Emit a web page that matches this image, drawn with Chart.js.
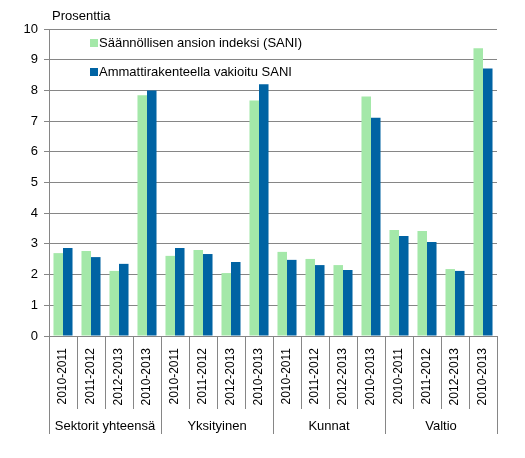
<!DOCTYPE html>
<html>
<head>
<meta charset="utf-8">
<script src="https://cdn.jsdelivr.net/npm/chart.js@4.4.1/dist/chart.umd.min.js"></script>
<style>
    html, body { margin: 0; padding: 0; background: #fff; }
    #wrap { width: 525px; height: 458px; }
</style>
</head>
<body>
<div id="wrap"><canvas id="chart" width="525" height="458"></canvas></div>
<script>
// Chart data
const periods = ['2010-2011', '2011-2012', '2012-2013', '2010-2013'];
const groups = ['Sektorit yhteensä', 'Yksityinen', 'Kunnat', 'Valtio'];
const saniValues = [2.70, 2.77, 2.12, 7.84, 2.61, 2.80, 2.05, 7.67, 2.74, 2.51, 2.31, 7.80, 3.45, 3.42, 2.18, 9.37];
const vakioituValues = [2.87, 2.57, 2.35, 8.00, 2.87, 2.67, 2.41, 8.20, 2.48, 2.31, 2.15, 7.11, 3.26, 3.06, 2.12, 8.71];
const seriesNames = ['Säännöllisen ansion indeksi (SANI)', 'Ammattirakenteella vakioitu SANI'];
const yTicks = [0, 1, 2, 3, 4, 5, 6, 7, 8, 9, 10];
const yTitle = 'Prosenttia';

const FONT = 'Liberation Sans, Arial, sans-serif';
const GRID = '#868686';

// one label per bar: period repeated for every group
const labels = [];
groups.forEach(() => periods.forEach(p => labels.push(p)));

/**
 * Draws the y title, the legend inside the plot and the grouped x axis
 */
const decorPlugin = {
    id: 'decor',
    afterDraw(chart) {
        const ctx = chart.ctx;
        const area = chart.chartArea;
        const x = chart.scales.x;
        ctx.save();

        // Axis title above the plot
        ctx.font = '13px ' + FONT;
        ctx.fillStyle = '#000';
        ctx.textBaseline = 'middle';
        ctx.textAlign = 'left';
        ctx.fillText(yTitle, area.left + 3, 16);

        // Legend inside the plot area
        chart.data.datasets.forEach((ds, i) => {
            const ly = area.top + 14 + i * 29;
            ctx.fillStyle = ds.backgroundColor;
            ctx.fillRect(area.left + 41, ly - 4, 8, 8);
            ctx.fillStyle = '#000';
            ctx.fillText(ds.label, area.left + 50, ly);
        });

        // Category and group separators below the axis
        const n = chart.data.labels.length;
        const step = x.getPixelForValue(1) - x.getPixelForValue(0);
        ctx.strokeStyle = GRID;
        ctx.lineWidth = 1;
        for (let i = 0; i <= n; i++) {
            const px = Math.round(x.getPixelForValue(i) - step / 2) + 0.5;
            const len = (i % periods.length === 0) ? 98 : 73;
            ctx.beginPath();
            ctx.moveTo(px, area.bottom);
            ctx.lineTo(px, area.bottom + len);
            ctx.stroke();
        }

        // Group names
        ctx.fillStyle = '#000';
        ctx.textAlign = 'center';
        groups.forEach((g, gi) => {
            const first = x.getPixelForValue(gi * periods.length);
            const last = x.getPixelForValue(gi * periods.length + periods.length - 1);
            ctx.fillText(g, (first + last) / 2, area.bottom + 90);
        });
        ctx.restore();
    }
};

new Chart(document.getElementById('chart'), {
    type: 'bar',
    data: {
        labels: labels,
        datasets: [
            {
                label: seriesNames[0],
                data: saniValues,
                backgroundColor: '#a4e8a9'
            },
            {
                label: seriesNames[1],
                data: vakioituValues,
                backgroundColor: '#0063a3'
            }
        ]
    },
    options: {
        responsive: false,
        animation: false,
        devicePixelRatio: 1,
        layout: { padding: { top: 29, right: 28, bottom: 0, left: 0 } },
        datasets: {
            bar: { categoryPercentage: 0.68, barPercentage: 1 }
        },
        plugins: {
            legend: { display: false },
            tooltip: { enabled: false }
        },
        scales: {
            x: {
                grid: { display: false, drawTicks: false },
                border: { display: true, color: GRID, width: 1 },
                ticks: {
                    color: '#000',
                    font: { family: FONT, size: 12 },
                    minRotation: 90,
                    maxRotation: 90,
                    padding: 12,
                    autoSkip: false
                },
                afterFit(scale) { scale.height = 122; }
            },
            y: {
                min: 0,
                max: 10,
                afterBuildTicks(scale) {
                    scale.ticks = yTicks.map(v => ({ value: v }));
                },
                grid: { color: GRID, lineWidth: 1, tickLength: 5, drawTicks: true },
                border: { display: true, color: GRID, width: 1 },
                ticks: {
                    color: '#000',
                    font: { family: FONT, size: 13 },
                    padding: 6
                },
                afterFit(scale) { scale.width = 49; }
            }
        }
    },
    plugins: [decorPlugin]
});
</script>
</body>
</html>
